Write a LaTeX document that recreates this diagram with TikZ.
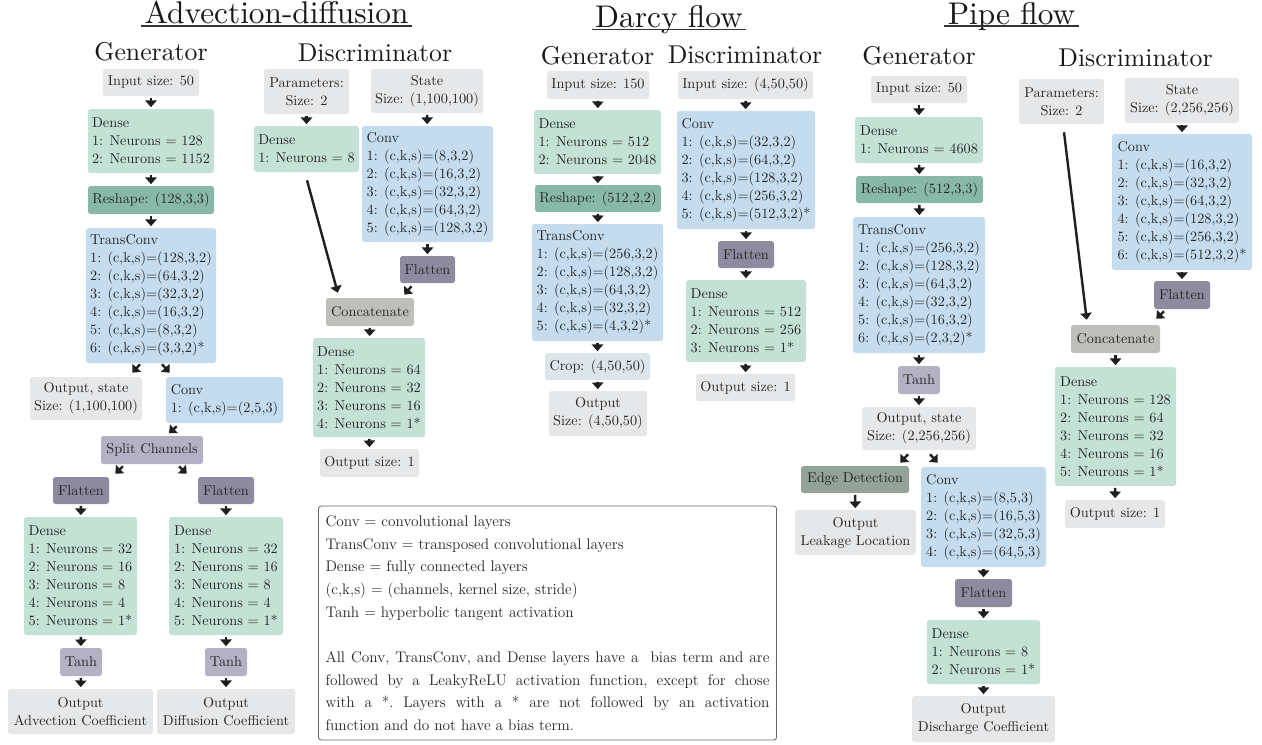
\documentclass[tikz,border=0pt]{standalone}
\usepackage{tikz}
\usetikzlibrary{arrows.meta}

\definecolor{boxgray}{RGB}{230,231,233}
\definecolor{densegreen}{RGB}{195,225,212}
\definecolor{reshapeteal}{RGB}{136,185,168}
\definecolor{convblue}{RGB}{196,220,238}
\definecolor{flatpurple}{RGB}{142,138,160}
\definecolor{actlav}{RGB}{180,177,197}
\definecolor{catgray}{RGB}{190,191,186}
\definecolor{cropblue}{RGB}{219,229,234}
\definecolor{edgegreen}{RGB}{148,163,153}
\definecolor{txtc}{RGB}{38,38,38}

\tikzset{
  sz/.style 2 args={minimum width=#1*0.75pt, minimum height=#2*0.75pt},
  blk/.style={rounded corners=2pt, inner sep=0pt, align=left, text=txtc, font=\fontsize{10.7}{13.5}\selectfont},
  iobox/.style={blk, fill=boxgray, align=center},
  densebox/.style={blk, fill=densegreen},
  reshapebox/.style={blk, fill=reshapeteal},
  convbox/.style={blk, fill=convblue},
  flatbox/.style={blk, fill=flatpurple},
  actbox/.style={blk, fill=actlav},
  catbox/.style={blk, fill=catgray},
  cropbox/.style={blk, fill=cropblue},
  edgebox/.style={blk, fill=edgegreen},
  arr/.style={-{Triangle[length=5pt,width=8.5pt]}, line width=1.8pt, draw=black!88, shorten <=1.2pt, shorten >=1.2pt},
  darr/.style={arr, shorten <=0pt, shorten >=0pt},
  ttl/.style={anchor=base, inner sep=0pt, text=black!90, font=\fontsize{10}{12}\selectfont, scale=2.35},
  subttl/.style={anchor=base, inner sep=0pt, text=black!90, font=\fontsize{10}{12}\selectfont, scale=1.93},
  uline/.style={line width=0.9pt, draw=black!80},
}

\begin{document}
\begin{tikzpicture}[x=0.75pt,y=-0.75pt]
\useasboundingbox (0,0) rectangle (1262,744);

%%%%%%%%%%%%%%%% Advection-diffusion
% Text Node
\node[ttl] (tA) at (276.5,23.5) {Advection-diffusion};
\draw[uline] ([shift={(-3,2.5)}]tA.base west) -- ([shift={(3,2.5)}]tA.base east);
\node[subttl] (aG) at (151,60) {Generator};
\node[subttl] (aDis) at (375,61) {Discriminator};

%Shape: generator
\node[iobox, sz={96}{27}] (aIn) at (151,82.5) {Input size: 50};
\node[densebox, sz={126}{64}] (aD1) at (151,141) {Dense\\1: Neurons = 128\\2: Neurons = 1152};
\node[reshapebox, sz={126}{28}] (aRs) at (151,200) {Reshape: (128,3,3)};
\node[convbox, sz={130}{135}] (aTC) at (151,295.5) {TransConv\\1: (c,k,s)=(128,3,2)\\2: (c,k,s)=(64,3,2)\\3: (c,k,s)=(32,3,2)\\4: (c,k,s)=(16,3,2)\\5: (c,k,s)=(8,3,2)\\6: (c,k,s)=(3,3,2)*};
\node[iobox, sz={112}{43}] (aOut) at (86,398.5) {Output, state\\Size: (1,100,100)};
\node[convbox, sz={117}{46}] (aCv) at (224.5,400) {Conv\\1: (c,k,s)=(2,5,3)};
\node[actbox, sz={102}{28}] (aSp) at (152,450) {Split Channels};
\node[flatbox, sz={56}{27}] (aFl1) at (81,490.5) {Flatten};
\node[flatbox, sz={56}{27}] (aFl2) at (226,490.5) {Flatten};
\node[densebox, sz={113}{118}] (aD2) at (80.5,576) {Dense\\1: Neurons = 32\\2: Neurons = 16\\3: Neurons = 8\\4: Neurons = 4\\5: Neurons = 1*};
\node[densebox, sz={114}{118}] (aD3) at (226,576) {Dense\\1: Neurons = 32\\2: Neurons = 16\\3: Neurons = 8\\4: Neurons = 4\\5: Neurons = 1*};
\node[actbox, sz={42}{28}] (aTh1) at (81,662) {Tanh};
\node[actbox, sz={42}{28}] (aTh2) at (226,662) {Tanh};
\node[iobox, sz={145}{45}] (aO1) at (80.5,711.5) {Output\\Advection Coefficient};
\node[iobox, sz={138}{45}] (aO2) at (226,711.5) {Output\\Diffusion Coefficient};

%Shape: discriminator
\node[iobox, sz={85}{45}] (aPar) at (306.5,91.5) {Parameters:\\Size: 2};
\node[densebox, sz={105}{46}] (aDd) at (306.5,149) {Dense\\1: Neurons = 8};
\node[iobox, sz={112}{44}] (aSt) at (427,91) {State\\Size: (1,100,100)};
\node[convbox, sz={131}{116}] (aCd) at (427.5,184) {Conv\\1: (c,k,s)=(8,3,2)\\2: (c,k,s)=(16,3,2)\\3: (c,k,s)=(32,3,2)\\4: (c,k,s)=(64,3,2)\\5: (c,k,s)=(128,3,2)};
\node[flatbox, sz={55}{27}] (aFd) at (427.5,269.5) {Flatten};
\node[catbox, sz={88}{28}] (aCat) at (370,312) {Concatenate};
\node[densebox, sz={112}{99}] (aDc) at (369,387.5) {Dense\\1: Neurons = 64\\2: Neurons = 32\\3: Neurons = 16\\4: Neurons = 1*};
\node[iobox, sz={99}{28}] (aOs) at (369.5,463) {Output size: 1};

%Straight Lines
\draw[arr] (aIn) -- (aD1);
\draw[arr] (aD1) -- (aRs);
\draw[arr] (aRs) -- (aTC);
\draw[darr] ([shift={(-11,1)}]aTC.south) -- ([shift={(-10,-4)}]aOut.north east);
\draw[darr] ([shift={(11,1)}]aTC.south) -- ([shift={(4,-4)}]aCv.north west);
\draw[darr] ([shift={(11,3)}]aCv.south west) -- ([shift={(17,-2.5)}]aSp.north);
\draw[darr] ([shift={(-29,2)}]aSp.south) -- ([shift={(6,-3)}]aFl1.north east);
\draw[darr] ([shift={(27,2)}]aSp.south) -- ([shift={(-11,-3)}]aFl2.north west);
\draw[arr] (aFl1) -- (aD2);
\draw[arr] (aFl2) -- (aD3);
\draw[arr] (aD2) -- (aTh1);
\draw[arr] (aD3) -- (aTh2);
\draw[arr] (aTh1) -- (aO1);
\draw[arr] (aTh2) -- (aO2);
\draw[arr] (aPar) -- (aDd);
\draw[arr] (aSt) -- (aCd);
\draw[arr] (aCd) -- (aFd);
\draw[darr] ([shift={(0.5,8)}]aDd.south) -- ([shift={(12,-5)}]aCat.north west);
\draw[darr] ([shift={(-16,3)}]aFd.south) -- ([shift={(-10,-3)}]aCat.north east);
\draw[arr] (aCat) -- (aDc);
\draw[arr] (aDc) -- (aOs);

%%%%%%%%%%%%%%%% Darcy flow
% Text Node
\node[ttl] (tD) at (669,27.5) {Darcy flow};
\draw[uline] ([shift={(-3,2)}]tD.base west) -- ([shift={(3,2)}]tD.base east);
\node[subttl] (dG) at (597.5,64) {Generator};
\node[subttl] (dDis) at (745,63) {Discriminator};

%Shape: generator
\node[iobox, sz={102}{28}] (dIn) at (598,85) {Input size: 150};
\node[densebox, sz={127}{64}] (dD1) at (597.5,142) {Dense\\1: Neurons = 512\\2: Neurons = 2048};
\node[reshapebox, sz={126}{27}] (dRs) at (598,198.5) {Reshape: (512,2,2)};
\node[convbox, sz={131}{117}] (dTC) at (597.5,282.5) {TransConv\\1: (c,k,s)=(256,3,2)\\2: (c,k,s)=(128,3,2)\\3: (c,k,s)=(64,3,2)\\4: (c,k,s)=(32,3,2)\\5: (c,k,s)=(4,3,2)*};
\node[cropbox, sz={105}{27}] (dCr) at (597.5,366.5) {Crop: (4,50,50)};
\node[iobox, sz={98}{45}] (dOut) at (598,413.5) {Output\\Size: (4,50,50)};

%Shape: discriminator
\node[iobox, sz={135}{28}] (dIn2) at (745.5,85) {Input size: (4,50,50)};
\node[convbox, sz={138}{118}] (dCv) at (746,170) {Conv\\1: (c,k,s)=(32,3,2)\\2: (c,k,s)=(64,3,2)\\3: (c,k,s)=(128,3,2)\\4: (c,k,s)=(256,3,2)\\5: (c,k,s)=(512,3,2)*};
\node[flatbox, sz={56}{27}] (dFl) at (746,254.5) {Flatten};
\node[densebox, sz={120}{82}] (dD2) at (746,321) {Dense\\1: Neurons = 512\\2: Neurons = 256\\3: Neurons = 1*};
\node[iobox, sz={99}{27}] (dOs) at (745.5,387.5) {Output size: 1};

%Straight Lines
\draw[arr] (dIn) -- (dD1);
\draw[arr] (dD1) -- (dRs);
\draw[arr] (dRs) -- (dTC);
\draw[arr] (dTC) -- (dCr);
\draw[arr] (dCr) -- (dOut);
\draw[arr] (dIn2) -- (dCv);
\draw[arr] (dCv) -- (dFl);
\draw[arr] (dFl) -- (dD2);
\draw[arr] (dD2) -- (dOs);

%%%%%%%%%%%%%%%% Pipe flow
% Text Node
\node[ttl] (tP) at (1011.5,24) {Pipe flow};
\draw[uline] ([shift={(-3,2)}]tP.base west) -- ([shift={(3,2)}]tP.base east);
\node[subttl] (pG) at (919,64) {Generator};
\node[subttl] (pDis) at (1135.5,66.5) {Discriminator};

%Shape: generator
\node[iobox, sz={96}{27}] (pIn) at (919,89.5) {Input size: 50};
\node[densebox, sz={128}{46}] (pD1) at (919,140) {Dense\\1: Neurons = 4608};
\node[reshapebox, sz={127}{27}] (pRs) at (919.5,189.5) {Reshape: (512,3,3)};
\node[convbox, sz={132}{136}] (pTC) at (919,285) {TransConv\\1: (c,k,s)=(256,3,2)\\2: (c,k,s)=(128,3,2)\\3: (c,k,s)=(64,3,2)\\4: (c,k,s)=(32,3,2)\\5: (c,k,s)=(16,3,2)\\6: (c,k,s)=(2,3,2)*};
\node[actbox, sz={42}{28}] (pTh) at (919,380) {Tanh};
\node[iobox, sz={114}{43}] (pOut) at (919,428.5) {Output, state\\Size: (2,256,256)};
\node[edgebox, sz={108}{27}] (pEd) at (855,479.5) {Edge Detection};
\node[iobox, sz={121}{45}] (pOl) at (855.5,532.5) {Output\\Leakage Location};
\node[convbox, sz={125}{100}] (pCv) at (983.5,517) {Conv\\1: (c,k,s)=(8,5,3)\\2: (c,k,s)=(16,5,3)\\3: (c,k,s)=(32,5,3)\\4: (c,k,s)=(64,5,3)};
\node[flatbox, sz={57}{28}] (pFl) at (983.5,593) {Flatten};
\node[densebox, sz={113}{64}] (pD2) at (983.5,652) {Dense\\1: Neurons = 8\\2: Neurons = 1*};
\node[iobox, sz={143}{46}] (pOd) at (983.5,719) {Output\\Discharge Coefficient};

%Shape: discriminator
\node[iobox, sz={85}{45}] (pPar) at (1061.5,101.5) {Parameters:\\Size: 2};
\node[iobox, sz={114}{45}] (pSt) at (1182,100.5) {State\\Size: (2,256,256)};
\node[convbox, sz={140}{136}] (pCd) at (1182,202) {Conv\\1: (c,k,s)=(16,3,2)\\2: (c,k,s)=(32,3,2)\\3: (c,k,s)=(64,3,2)\\4: (c,k,s)=(128,3,2)\\5: (c,k,s)=(256,3,2)\\6: (c,k,s)=(512,3,2)*};
\node[flatbox, sz={56}{28}] (pFd) at (1182,295) {Flatten};
\node[catbox, sz={89}{28}] (pCat) at (1115.5,339) {Concatenate};
\node[densebox, sz={121}{119}] (pDc) at (1115.5,426.5) {Dense\\1: Neurons = 128\\2: Neurons = 64\\3: Neurons = 32\\4: Neurons = 16\\5: Neurons = 1*};
\node[iobox, sz={100}{28}] (pOs) at (1115,514) {Output size: 1};

%Straight Lines
\draw[arr] (pIn) -- (pD1);
\draw[arr] (pD1) -- (pRs);
\draw[arr] (pRs) -- (pTC);
\draw[arr] (pTC) -- (pTh);
\draw[arr] (pTh) -- (pOut);
\draw[darr] ([shift={(-11,4)}]pOut.south) -- ([shift={(-9,-3)}]pEd.north east);
\draw[darr] ([shift={(11,4)}]pOut.south) -- ([shift={(17,-4)}]pCv.north west);
\draw[arr] (pEd) -- (pOl);
\draw[arr] (pCv) -- (pFl);
\draw[arr] (pFl) -- (pD2);
\draw[arr] (pD2) -- (pOd);
\draw[arr] (pSt) -- (pCd);
\draw[arr] (pCd) -- (pFd);
\draw[darr] ([shift={(2.5,8)}]pPar.south) -- ([shift={(16,-5)}]pCat.north west);
\draw[darr] ([shift={(-18,2)}]pFd.south) -- ([shift={(-4,-6)}]pCat.north east);
\draw[arr] (pCat) -- (pDc);
\draw[arr] (pDc) -- (pOs);

%%%%%%%%%%%%%%%% legend
\node[draw=black!60, line width=0.6pt, rounded corners=2pt, fill=white, sz={458}{234}, inner sep=0pt, text width=333pt, align=justify, text=txtc, font=\fontsize{11.5}{17}\selectfont\frenchspacing] (leg) at (547.5,623) {Conv = convolutional layers\\
TransConv = transposed convolutional layers\\
Dense = fully connected layers\\
(c,k,s) = (channels, kernel size, stride)\\
Tanh = hyperbolic tangent activation\\[17pt]
All Conv, TransConv, and Dense layers have a\ \ bias term and are\linebreak
followed by a LeakyReLU activation function, except for chose\linebreak
with a *. Layers with a * are not followed by an activation\linebreak
function and do not have a bias term.};

\end{tikzpicture}
\end{document}
